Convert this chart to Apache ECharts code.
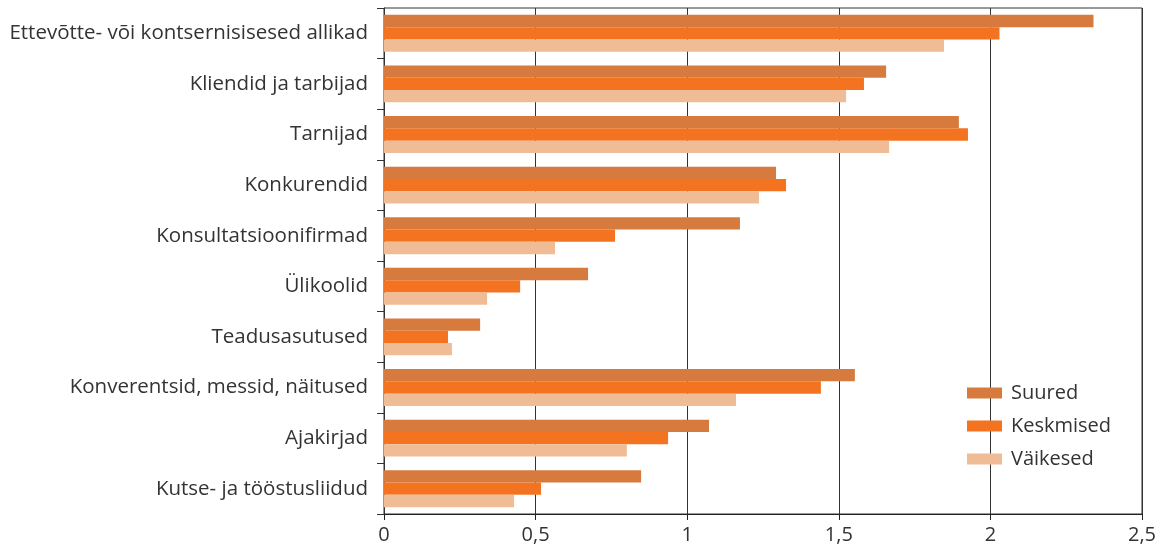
<!DOCTYPE html>
<html>
<head>
<meta charset="utf-8">
<script src="https://cdn.jsdelivr.net/npm/echarts@6/dist/echarts.min.js"></script>
<style>html,body{margin:0;padding:0;background:#fff}#c{width:1164px;height:550px}</style>
</head>
<body>
<div id="c"></div>
<script>
var categories = ["Ettevõtte- või kontsernisisesed allikad","Kliendid ja tarbijad","Tarnijad","Konkurendid","Konsultatsioonifirmad","Ülikoolid","Teadusasutused","Konverentsid, messid, näitused","Ajakirjad","Kutse- ja tööstusliidud"];
var seriesNames = ["Suured","Keskmised","Väikesed"];
var suured = [2.34,1.656,1.896,1.293,1.174,0.673,0.317,1.553,1.072,0.848];
var keskmised = [2.03,1.583,1.926,1.326,0.762,0.449,0.211,1.441,0.937,0.518];
var vaikesed = [1.847,1.524,1.666,1.237,0.564,0.340,0.224,1.161,0.801,0.429];
var xTicks = [0,0.5,1,1.5,2,2.5];
var colors = ['#D77A3D','#F37321','#F0BC95'];
var FONT = 'Open Sans';

var chart = echarts.init(document.getElementById('c'), null, {renderer:'canvas'});
var seriesData = [suured, keskmised, vaikesed];
chart.setOption({
  animation:false,
  textStyle:{fontFamily:FONT},
  grid:{left:384,right:22,top:8,bottom:36,show:true,borderColor:'#333',borderWidth:1},
  legend:{
    orient:'vertical', left:962, top:378,
    itemWidth:35, itemHeight:11, itemGap:13, icon:'rect',
    textStyle:{fontFamily:FONT,fontSize:20,color:'#333',padding:[0,0,0,4]},
    data:seriesNames
  },
  xAxis:{
    type:'value', min:xTicks[0], max:xTicks[xTicks.length-1], interval:0.5,
    axisLine:{show:true,lineStyle:{color:'#222',width:1}},
    axisTick:{show:true,length:6,lineStyle:{color:'#222'}},
    axisLabel:{fontFamily:FONT,fontSize:20,color:'#333',margin:11,
      formatter:function(v){return String(v).replace('.',',');}},
    splitLine:{show:true,lineStyle:{color:'#333',width:1}}
  },
  yAxis:{
    type:'category', data:categories, inverse:true,
    axisLine:{show:true,lineStyle:{color:'#333'}},
    axisTick:{show:true,length:7,lineStyle:{color:'#333'}},
    axisLabel:{fontFamily:FONT,fontSize:20.5,color:'#333',margin:16}
  },
  series:seriesData.map(function(d,i){
    return {name:seriesNames[i],type:'bar',data:d,barGap:'0%',barCategoryGap:'27%',
      itemStyle:{color:colors[i]}};
  })
});
</script>
</body>
</html>
